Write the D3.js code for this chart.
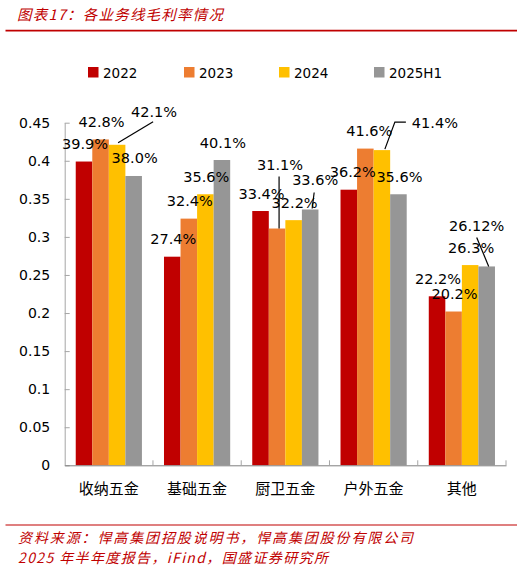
<!DOCTYPE html>
<html><head><meta charset="utf-8">
<script src="https://cdn.jsdelivr.net/npm/d3@7"></script>
<style>body{margin:0;background:#fff}svg{display:block}</style>
</head><body><svg id="c" width="526" height="571"></svg>
<script>
// ---- data ----
const categories = ["收纳五金","基础五金","厨卫五金","户外五金","其他"];
const seriesNames = ["2022","2023","2024","2025H1"];
const s2022   = [0.399,0.274,0.334,0.362,0.222];
const s2023   = [0.428,0.324,0.311,0.416,0.202];
const s2024   = [0.421,0.356,0.322,0.414,0.263];
const s2025H1 = [0.380,0.401,0.336,0.356,0.2612];
const labels2022   = ["39.9%","27.4%","33.4%","36.2%","22.2%"];
const labels2023   = ["42.8%","32.4%","31.1%","41.6%","20.2%"];
const labels2024   = ["42.1%","35.6%","32.2%","41.4%","26.3%"];
const labels2025H1 = ["38.0%","40.1%","33.6%","35.6%","26.12%"];
const yTicks = [0,0.05,0.1,0.15,0.2,0.25,0.3,0.35,0.4,0.45];
const yTickLabels = ["0","0.05","0.1","0.15","0.2","0.25","0.3","0.35","0.4","0.45"];
const titleText = "图表17：各业务线毛利率情况";
const sourceLine1 = "资料来源：悍高集团招股说明书，悍高集团股份有限公司";
const sourceLine2 = "2025 年半年度报告，iFind，国盛证券研究所";

// ---- style / layout ----
const colors = ["#C00000","#ED7D31","#FFC000","#969696"];
const RED = "#C00000";
// label shifts (key "cat-series") relative to default label position above bar
const labelShift = {"0-2":[36,-15],"2-1":[2,-46],"2-3":[4,-12],"3-1":[3,0],"3-0":[3,0],"3-2":[52,-10],"4-3":[-11,-23]};
// leader line points relative to (bar centre, bar top)
const leaders = {"0-2":[[1,-2],[36,-23]],"2-1":[[2,0],[2,-52]],"2-3":[[2,-1],[4,-17]],"3-2":[[3,-1],[13,-28],[24,-28]],"4-3":[[2,0],[-10,-29]]};

const series = [s2022,s2023,s2024,s2025H1];
const seriesLabels = [labels2022,labels2023,labels2024,labels2025H1];

const svg = d3.select("#c");
svg.append("rect").attr("width",526).attr("height",571).attr("fill","#fff");

const x0 = d3.scaleBand().domain(categories).range([64.7,506]).paddingInner(0).paddingOuter(0);
const bw = x0.bandwidth();
const x1 = d3.scaleBand().domain(seriesNames).range([bw*0.125,bw*0.875]).padding(0);
const y = d3.scaleLinear().domain([0,0.45]).range([465.3,122.7]);

// title
svg.append("text").attr("x",17).attr("y",19.5).text(titleText)
  .attr("font-family","Noto Sans CJK SC").attr("font-style","italic").attr("font-size",14.5)
  .attr("fill",RED).attr("textLength",206).attr("lengthAdjust","spacing");
svg.append("line").attr("x1",5.5).attr("x2",517).attr("y1",30.7).attr("y2",30.7).attr("stroke",RED).attr("stroke-width",1.8);

// legend
const lg = svg.append("g");
const legX = [88,184,279,374];
seriesNames.forEach((n,i)=>{
  lg.append("rect").attr("x",legX[i]).attr("y",67).attr("width",10.5).attr("height",10.5).attr("fill",colors[i]);
  lg.append("text").attr("x",legX[i]+15).attr("y",77.5).text(n)
    .attr("font-family","DejaVu Sans").attr("font-size",13.5).attr("fill","#000");
});

// bars
const g = svg.append("g");
categories.forEach((c,ci)=>{
  seriesNames.forEach((s,si)=>{
    const v = series[si][ci];
    g.append("rect").attr("x",x0(c)+x1(s)).attr("y",y(v)).attr("width",x1.bandwidth()).attr("height",y(0)-y(v))
      .attr("fill",colors[si]);
  });
});

// axes
const yAxis = d3.axisLeft(y).tickValues(yTicks).tickFormat((d,i)=>yTickLabels[i]).tickSize(-5).tickSizeOuter(0).tickPadding(14.5);
const ya = svg.append("g").attr("transform","translate(64.7,0)").call(yAxis);
ya.select(".domain").attr("stroke","#a6a6a6");
ya.selectAll(".tick line").attr("stroke","#a6a6a6");
ya.selectAll(".tick text").attr("font-family","DejaVu Sans").attr("font-size",14).attr("fill","#000");

const xAxis = d3.axisBottom(x0).tickSize(0).tickSizeOuter(0).tickPadding(18);
const xa = svg.append("g").attr("transform",`translate(0,${y(0)})`).call(xAxis);
xa.select(".domain").attr("stroke","#7f7f7f");
xa.selectAll(".tick text").attr("font-family","Noto Sans CJK SC").attr("font-size",15).attr("fill","#000");
const bounds = categories.map(c=>x0(c)).concat([x0.range()[1]]);
svg.append("g").selectAll("line").data(bounds.slice(1)).join("line")
  .attr("x1",d=>d).attr("x2",d=>d).attr("y1",y(0)).attr("y2",y(0)-5).attr("stroke","#a6a6a6");

// data labels
const lab = svg.append("g");
categories.forEach((c,ci)=>{
  seriesNames.forEach((s,si)=>{
    const v = series[si][ci];
    const cx = x0(c)+x1(s)+x1.bandwidth()/2;
    const top = y(v);
    const key = ci+"-"+si;
    const sh = labelShift[key]||[0,0];
    lab.append("text").attr("x",cx+1+sh[0]).attr("y",top-17.5+5+sh[1]).attr("text-anchor","middle")
      .text(seriesLabels[si][ci]).attr("font-family","DejaVu Sans").attr("font-size",14.5).attr("fill","#000");
    if(leaders[key]){
      lab.append("polyline").attr("points",leaders[key].map(p=>[cx+p[0],top+p[1]].join(",")).join(" "))
        .attr("fill","none").attr("stroke","#000").attr("stroke-width",1.2);
    }
  });
});

// footer
svg.append("line").attr("x1",5.5).attr("x2",517).attr("y1",525).attr("y2",525).attr("stroke",RED).attr("stroke-width",1.2);
svg.append("text").attr("x",18).attr("y",542.5).text(sourceLine1)
  .attr("font-family","Noto Sans CJK SC").attr("font-style","italic").attr("font-size",14)
  .attr("fill",RED).attr("textLength",395).attr("lengthAdjust","spacing");
svg.append("text").attr("x",18).attr("y",562.5).text(sourceLine2)
  .attr("font-family","Noto Sans CJK SC").attr("font-style","italic").attr("font-size",14)
  .attr("fill",RED).attr("textLength",310).attr("lengthAdjust","spacing");
</script></body></html>
